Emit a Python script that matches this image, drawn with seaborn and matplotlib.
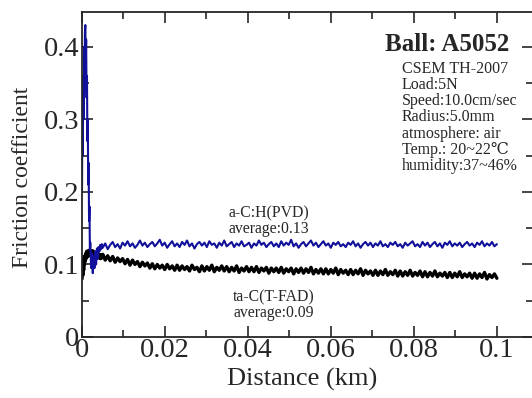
import numpy as np
import pandas as pd
import matplotlib
matplotlib.use("Agg")
import matplotlib.pyplot as plt
from matplotlib.ticker import MultipleLocator, FormatStrFormatter
import seaborn as sns

# running-in part (0 - 0.0048 km)
start_dist = [0.0000, 0.0001, 0.0002, 0.0003, 0.0004, 0.0005, 0.0006, 0.0007, 0.0008, 0.0009,
              0.0010, 0.0011, 0.0012, 0.0013, 0.0014, 0.0015, 0.0016, 0.0017, 0.0018, 0.0019,
              0.0020, 0.0022, 0.0024, 0.0026, 0.0028, 0.0030, 0.0032, 0.0034, 0.0036, 0.0038,
              0.0040, 0.0042, 0.0044, 0.0046, 0.0048]
pvd_start = [0.20, 0.33, 0.25, 0.36, 0.30, 0.40, 0.34, 0.42, 0.43, 0.38,
             0.41, 0.33, 0.36, 0.27, 0.30, 0.21, 0.24, 0.16, 0.18, 0.12,
             0.13, 0.095, 0.115, 0.088, 0.112, 0.095, 0.118, 0.100, 0.122, 0.108,
             0.124, 0.118, 0.127, 0.121, 0.128]
fad_start = [0.080, 0.095, 0.085, 0.105, 0.092, 0.110, 0.100, 0.112, 0.105, 0.115,
             0.108, 0.118, 0.110, 0.116, 0.111, 0.119, 0.112, 0.117, 0.113, 0.120,
             0.114, 0.118, 0.112, 0.119, 0.113, 0.117, 0.111, 0.116, 0.110, 0.115,
             0.109, 0.114, 0.108, 0.113, 0.109]

# steady part (0.005 - 0.1 km), 160 samples
steady_dist = np.linspace(0.005, 0.1, 160)
pvd_steady = [0.123, 0.129, 0.121, 0.127, 0.131, 0.124, 0.128, 0.122, 0.130, 0.126,
              0.132, 0.125, 0.129, 0.123, 0.127, 0.133, 0.126, 0.130, 0.124, 0.128,
              0.131, 0.125, 0.129, 0.134, 0.126, 0.130, 0.123, 0.128, 0.132, 0.125,
              0.129, 0.124, 0.131, 0.127, 0.133, 0.125, 0.129, 0.122, 0.128, 0.131,
              0.126, 0.130, 0.124, 0.132, 0.127, 0.129, 0.123, 0.130, 0.126, 0.133,
              0.125, 0.128, 0.131, 0.124, 0.129, 0.126, 0.132, 0.125, 0.127, 0.130,
              0.123, 0.129, 0.126, 0.133, 0.127, 0.130, 0.124, 0.128, 0.131, 0.125,
              0.129, 0.124, 0.132, 0.126, 0.130, 0.127, 0.134, 0.125, 0.129, 0.123,
              0.128, 0.131, 0.125, 0.129, 0.133, 0.126, 0.130, 0.124, 0.128, 0.132,
              0.126, 0.129, 0.123, 0.130, 0.127, 0.131, 0.125, 0.128, 0.124, 0.130,
              0.127, 0.132, 0.125, 0.129, 0.123, 0.128, 0.131, 0.126, 0.130, 0.124,
              0.129, 0.126, 0.132, 0.125, 0.128, 0.124, 0.130, 0.127, 0.131, 0.125,
              0.128, 0.123, 0.130, 0.126, 0.129, 0.132, 0.125, 0.128, 0.124, 0.131,
              0.126, 0.130, 0.124, 0.128, 0.131, 0.125, 0.129, 0.123, 0.130, 0.127,
              0.132, 0.125, 0.129, 0.126, 0.130, 0.124, 0.128, 0.131, 0.126, 0.129,
              0.124, 0.130, 0.127, 0.132, 0.125, 0.129, 0.126, 0.131, 0.125, 0.128]
fad_steady = [0.114, 0.106, 0.112, 0.105, 0.111, 0.103, 0.109, 0.104, 0.108, 0.101,
              0.107, 0.099, 0.106, 0.100, 0.104, 0.097, 0.103, 0.098, 0.102, 0.095,
              0.101, 0.094, 0.100, 0.095, 0.099, 0.093, 0.100, 0.094, 0.098, 0.092,
              0.099, 0.092, 0.098, 0.093, 0.097, 0.091, 0.099, 0.093, 0.096, 0.090,
              0.098, 0.091, 0.097, 0.092, 0.099, 0.090, 0.096, 0.092, 0.098, 0.091,
              0.097, 0.090, 0.096, 0.091, 0.098, 0.089, 0.095, 0.091, 0.097, 0.090,
              0.096, 0.090, 0.097, 0.089, 0.095, 0.091, 0.096, 0.088, 0.095, 0.090,
              0.095, 0.089, 0.096, 0.088, 0.094, 0.090, 0.095, 0.087, 0.094, 0.089,
              0.095, 0.088, 0.094, 0.089, 0.096, 0.087, 0.093, 0.088, 0.094, 0.087,
              0.094, 0.087, 0.093, 0.088, 0.095, 0.086, 0.093, 0.088, 0.092, 0.086,
              0.093, 0.086, 0.092, 0.087, 0.094, 0.085, 0.092, 0.087, 0.091, 0.085,
              0.092, 0.085, 0.091, 0.086, 0.093, 0.085, 0.090, 0.086, 0.092, 0.084,
              0.091, 0.084, 0.090, 0.085, 0.092, 0.084, 0.089, 0.085, 0.091, 0.083,
              0.090, 0.083, 0.089, 0.084, 0.091, 0.083, 0.088, 0.084, 0.089, 0.082,
              0.089, 0.082, 0.088, 0.083, 0.090, 0.082, 0.087, 0.083, 0.088, 0.081,
              0.088, 0.081, 0.087, 0.082, 0.089, 0.080, 0.086, 0.082, 0.087, 0.081]

info_lines = ["CSEM TH-2007", "Load:5N", "Speed:10.0cm/sec", "Radius:5.0mm",
              "atmosphere: air", "Temp.: 20~22\u2103", "humidity:37~46%"]

pvd = pd.DataFrame({"dist": np.concatenate([start_dist, steady_dist]),
                    "mu": pvd_start + pvd_steady})
fad = pd.DataFrame({"dist": np.concatenate([start_dist, steady_dist]),
                    "mu": fad_start + fad_steady})

sns.set_style("ticks")
plt.rcParams['font.family'] = ['Liberation Serif', 'DejaVu Serif']

fig = plt.figure(figsize=(5.32, 3.98), dpi=100)
ax = fig.add_axes([82/532, 61/398, 451/532, 325/398])

sns.lineplot(data=fad, x="dist", y="mu", ax=ax, color="black", linewidth=2.4,
             estimator=None, sort=False)
sns.lineplot(data=pvd, x="dist", y="mu", ax=ax, color="#10109a", linewidth=1.5,
             estimator=None, sort=False)

ax.set_xlim(0, 0.1087)
ax.set_ylim(0, 0.448)
ax.xaxis.set_major_locator(MultipleLocator(0.02))
ax.xaxis.set_minor_locator(MultipleLocator(0.01))
ax.yaxis.set_major_locator(MultipleLocator(0.1))
ax.yaxis.set_minor_locator(MultipleLocator(0.05))
ax.xaxis.set_major_formatter(FormatStrFormatter('%g'))
ax.yaxis.set_major_formatter(FormatStrFormatter('%g'))
ax.tick_params(which='both', direction='in', top=True, right=True, labelsize=20.5)
ax.tick_params(axis='x', which='major', pad=1)
ax.tick_params(axis='y', which='major', pad=2)
ax.tick_params(which='major', length=8, width=1.2)
ax.tick_params(which='minor', length=5, width=1.2)
for s in ax.spines.values():
    s.set_linewidth(1.3)

ax.set_xlabel("Distance (km)", fontsize=19)
ax.set_ylabel("Friction coefficient", fontsize=17)
ax.xaxis.set_label_coords(0.489, -0.095)
ax.yaxis.set_label_coords(-0.109, 0.49)

ax.text(0.088, 0.403, "Ball: A5052", fontsize=18, fontweight='bold', ha='center', va='center')
for i, line in enumerate(info_lines):
    ax.text(0.0771, (337 - 69 - 16.2 * i) / 725, line, fontsize=11.5, ha='left', va='center')

ax.text(0.0352, (337 - 213) / 725, "a-C:H(PVD)", fontsize=11.3, ha='left', va='center')
ax.text(0.0352, (337 - 229) / 725, "average:0.13", fontsize=11.3, ha='left', va='center')
ax.text(0.0364, (337 - 297) / 725, "ta-C(T-FAD)", fontsize=11.3, ha='left', va='center')
ax.text(0.0364, (337 - 313) / 725, "average:0.09", fontsize=11.3, ha='left', va='center')

plt.savefig("out.png", dpi=100)
